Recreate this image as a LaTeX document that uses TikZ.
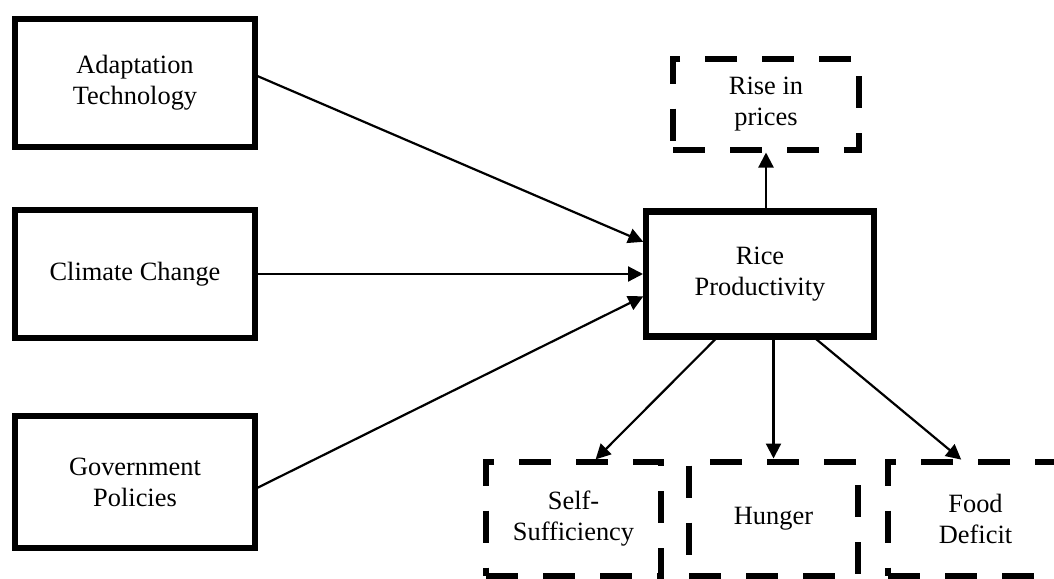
\documentclass[tikz,border=0pt]{standalone}
\usepackage{fontspec}
\setmainfont{Liberation Serif}
\usetikzlibrary{positioning,arrows.meta}

\begin{document}
\begin{tikzpicture}[node distance=0cm, outer sep=0pt,
    font=\fontsize{13.2}{15.5}\selectfont,
    solidbox/.style={draw, rectangle, line width=3pt, minimum width=120pt, minimum height=64pt, align=center},
    dashbox/.style={draw, rectangle, line width=3pt, dash pattern=on 16pt off 12.5pt, minimum height=57pt, align=center},
    link/.style={-{Triangle[length=7.5pt,width=7.5pt]}, line width=1.1pt, shorten >=1.5pt}]
    \useasboundingbox (0,0) rectangle (527pt,-289pt);
    % drivers
    \node [solidbox] (adapt) at (67.5pt,-41.5pt) {Adaptation\\Technology};
    \node [solidbox, below=31.5pt of adapt] (climate) {Climate Change};
    \node [solidbox, below=39pt of climate, minimum height=66pt] (policy) {Government\\Policies};
    
    % outcome and effects
    \node [solidbox, line width=3.3pt, minimum width=114pt, minimum height=62.5pt, right=195.5pt of climate] (rice) {Rice\\Productivity};
    \node [dashbox, minimum width=93pt, minimum height=45.5pt, above=31pt of rice, xshift=3pt] (prices) {Rise in\\prices};
    \node [dashbox, minimum width=84.5pt, below=62.5pt of rice, xshift=6.75pt] (hunger) {Hunger};
    \node [dashbox, minimum width=87.5pt, left=14pt of hunger] (selfsuf) {Self-\\Sufficiency};
    \node [dashbox, minimum width=87.5pt, right=15pt of hunger] (deficit) {Food\\Deficit};
    
    \draw [link] ([yshift=4pt]adapt.east) -- ([yshift=15.5pt]rice.west);
    \draw [link] (climate.east) -- (rice.west);
    \draw [link] ([yshift=-3.5pt]policy.east) -- ([yshift=-10.5pt]rice.west);
    \draw [link] (rice.north -| prices.south) -- (prices.south);
    \draw [link] ([xshift=-21pt]rice.south) -- ([xshift=10pt]selfsuf.north);
    \draw [link] (hunger.north |- rice.south) -- (hunger.north);
    \draw [link] ([xshift=26.5pt]rice.south) -- ([xshift=-6pt]deficit.north);
\end{tikzpicture}
\end{document}
